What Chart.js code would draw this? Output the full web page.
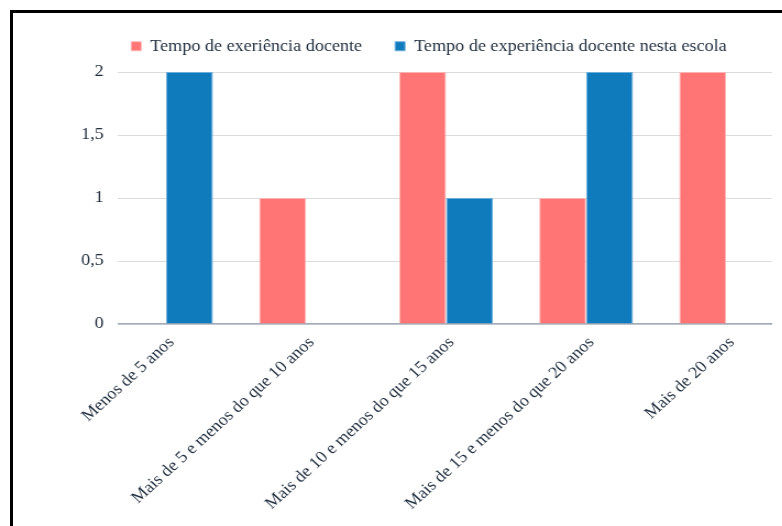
<!DOCTYPE html>
<html lang="pt">
<head>
<meta charset="utf-8">
<title>Tempo de experiência docente</title>
<script src="https://cdn.jsdelivr.net/npm/chart.js@4.4.1/dist/chart.umd.min.js"></script>
<style>
  html, body { margin: 0; padding: 0; background: #fff; overflow: hidden; width: 782px; height: 526px; }
  #moldura { position: absolute; left: 10px; top: 10px; width: 820px; height: 560px; border: 3px solid #000; }
  #palco { position: absolute; left: 0; top: 0; width: 780px; height: 526px; transform: scaleX(1.1); transform-origin: 0 0; }
</style>
</head>
<body>
<div id="moldura"></div>
<div id="palco"><canvas id="grafico" width="780" height="526"></canvas></div>
<script>
const categorias = [
  "Menos de 5 anos",
  "Mais de 5 e menos do que 10 anos",
  "Mais de 10 e menos do que 15 anos",
  "Mais de 15 e menos do que 20 anos",
  "Mais de 20 anos"
];
const experienciaDocente = [0, 1, 2, 1, 2];
const experienciaNestaEscola = [2, 0, 1, 2, 0];
const ticksY = [0, 0.5, 1, 1.5, 2];

const fonte = "Liberation Serif";
const corTexto = "#1f2d3d";

// legend height fixed so the plot starts where the reference does
const alturaLegenda = {
  id: "alturaLegenda",
  beforeInit(chart) {
    const fitOriginal = chart.legend.fit;
    chart.legend.fit = function () {
      fitOriginal.bind(chart.legend)();
      this.height = 64;
    };
  }
};

new Chart(document.getElementById("grafico"), {
  type: "bar",
  data: {
    datasets: [{
      label: "Tempo de exeriência docente",
      data: experienciaDocente.map((v, i) => ({ x: i, y: v })),
      backgroundColor: "#ff7575",
      borderColor: "#ffb3b3",
      borderWidth: 1
    }, {
      label: "Tempo de experiência docente nesta escola",
      data: experienciaNestaEscola.map((v, i) => ({ x: i, y: v })),
      backgroundColor: "#0f7bbd",
      borderColor: "#6aaedb",
      borderWidth: 1
    }]
  },
  options: {
    responsive: false,
    animation: false,
    layout: { padding: { top: 8, left: 0, right: 0, bottom: 0 } },
    datasets: { bar: { categoryPercentage: 0.67, barPercentage: 1.0 } },
    plugins: {
      tooltip: { enabled: false },
      legend: {
        position: "top",
        labels: {
          boxWidth: 9,
          boxHeight: 9,
          padding: 30,
          color: corTexto,
          font: { family: fonte, size: 16.5 }
        }
      }
    },
    scales: {
      x: {
        type: "linear",
        offset: false,
        min: -0.3425,
        max: 4.3275,
        grid: { display: false, offset: false },
        border: { display: true, color: "#a3acba", width: 1.5 },
        afterBuildTicks: axis => { axis.ticks = categorias.map((c, i) => ({ value: i })); },
        afterFit: axis => { axis.height = 202; },
        ticks: {
          autoSkip: false,
          minRotation: 45,
          maxRotation: 45,
          padding: 1,
          labelOffset: 5,
          color: corTexto,
          font: { family: fonte, size: 16.5 },
          callback: value => categorias[value]
        }
      },
      y: {
        min: 0,
        max: 2,
        grid: { color: "#dcdcdc", drawTicks: false },
        border: { display: false },
        afterBuildTicks: axis => { axis.ticks = ticksY.map(v => ({ value: v })); },
        afterFit: axis => { axis.width = 107.3; },
        ticks: {
          padding: 13,
          color: corTexto,
          font: { family: fonte, size: 16.5 },
          callback: value => String(value).replace(".", ",")
        }
      },
      direita: {
        type: "linear",
        position: "right",
        grid: { display: false },
        border: { display: false },
        ticks: { display: false },
        afterFit: axis => { axis.width = 78.2; }
      }
    }
  },
  plugins: [alturaLegenda]
});
</script>
</body>
</html>
